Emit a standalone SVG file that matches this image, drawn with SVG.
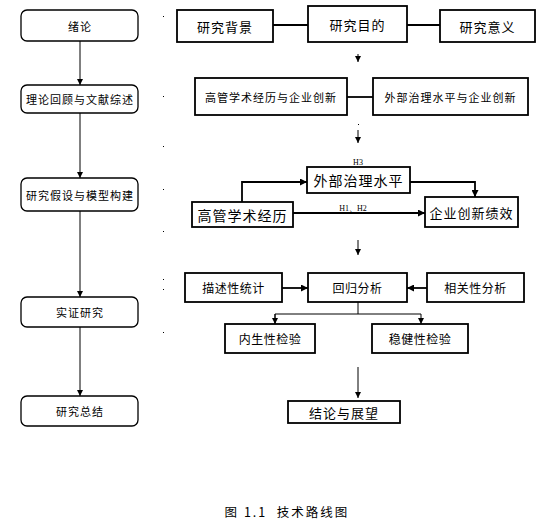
<svg xmlns="http://www.w3.org/2000/svg" width="547" height="521" viewBox="0 0 547 521">
<style>
text{font-family:"Noto Sans CJK SC","Noto Sans",sans-serif;fill:#000;text-anchor:middle;dominant-baseline:central}
.rb{fill:#fff;stroke:#000;stroke-width:1.3}
.b{fill:#fff;stroke:#000;stroke-width:1.8}
.c{fill:none;stroke:#000;stroke-width:1.8}
.t{fill:none;stroke:#000;stroke-width:1}
.s{font-size:11px;letter-spacing:1px}
.m{font-size:12px;letter-spacing:0.5px}
.l{font-size:13px;letter-spacing:1px}
.x{font-size:14px;letter-spacing:1px}
.h{font-size:8px;font-family:"Liberation Serif",serif}
.d{fill:#000}
</style>
<defs>
<marker id="a" viewBox="0 0 8 8" refX="8" refY="4" markerWidth="6" markerHeight="6" markerUnits="userSpaceOnUse" orient="auto"><path d="M0,0L8,4L0,8z" fill="#000"/></marker>
<marker id="a2" viewBox="0 0 8 8" refX="8" refY="4" markerWidth="7" markerHeight="7" markerUnits="userSpaceOnUse" orient="auto"><path d="M0,0L8,4L0,8z" fill="#000"/></marker>
</defs>
<g id="connectors">
<line class="t" x1="80" y1="41" x2="80" y2="85" marker-end="url(#a)"/>
<line class="t" x1="80" y1="113" x2="80" y2="178" marker-end="url(#a)"/>
<line class="t" x1="80" y1="211" x2="80" y2="297" marker-end="url(#a)"/>
<line class="t" x1="80" y1="327" x2="80" y2="396" marker-end="url(#a)"/>
<line class="c" x1="273" y1="25" x2="308" y2="25"/>
<line class="c" x1="407" y1="25" x2="440" y2="25"/>
<line class="t" x1="358" y1="54" x2="358" y2="62" marker-end="url(#a)"/>
<line class="c" x1="347" y1="97" x2="373" y2="97"/>
<line class="t" x1="358" y1="130" x2="358" y2="143" marker-end="url(#a)"/>
<polyline class="c" points="242,202 242,182 307,182" marker-end="url(#a2)"/>
<polyline class="c" points="410,182 475,182 475,197" marker-end="url(#a2)"/>
<line class="c" x1="293" y1="213" x2="425" y2="213" marker-end="url(#a2)"/>
<line class="t" x1="358" y1="240" x2="358" y2="255" marker-end="url(#a)"/>
<line class="c" x1="282" y1="288" x2="308" y2="288" marker-end="url(#a2)"/>
<line class="c" x1="427" y1="288" x2="407" y2="288" marker-end="url(#a2)"/>
<line class="t" x1="358" y1="302" x2="358" y2="314"/>
<polyline class="t" points="275,324 275,314 421,314 421,324" marker-end="url(#a)"/>
<line class="t" x1="275" y1="314" x2="275" y2="324" marker-end="url(#a)"/>
<line class="t" x1="358" y1="367" x2="358" y2="398" marker-end="url(#a)"/>
</g>
<g id="n1"><rect class="rb" x="21" y="10" width="117" height="31" rx="6"/><text class="s" x="80" y="25.5">绪论</text></g>
<g id="n2"><rect class="rb" x="21" y="85" width="117" height="28" rx="6"/><text class="s" x="80" y="99">理论回顾与文献综述</text></g>
<g id="n3"><rect class="rb" x="21" y="178" width="117" height="33" rx="6"/><text class="s" x="80" y="194.5">研究假设与模型构建</text></g>
<g id="n4"><rect class="rb" x="21" y="297" width="117" height="30" rx="6"/><text class="s" x="80" y="312">实证研究</text></g>
<g id="n5"><rect class="rb" x="21" y="396" width="117" height="30" rx="6"/><text class="s" x="80" y="411">研究总结</text></g>
<g id="r1"><rect class="b" x="177" y="10" width="96" height="32"/><text class="l" x="225" y="26">研究背景</text></g>
<g id="r2"><rect class="b" x="308" y="6" width="99" height="36"/><text class="l" x="357.5" y="24">研究目的</text></g>
<g id="r3"><rect class="b" x="440" y="10" width="95" height="32"/><text class="l" x="487.5" y="26">研究意义</text></g>
<g id="r4"><rect class="b" x="195" y="78" width="152" height="37"/><text class="s" x="271" y="96.5">高管学术经历与企业创新</text></g>
<g id="r5"><rect class="b" x="373" y="78" width="155" height="37"/><text class="s" x="450.5" y="96.5">外部治理水平与企业创新</text></g>
<g id="r6"><rect class="b" x="307" y="167" width="103" height="26"/><text class="x" x="358.5" y="180">外部治理水平</text></g>
<g id="r7"><rect class="b" x="192" y="202" width="101" height="25"/><text class="x" x="242.5" y="214.5">高管学术经历</text></g>
<g id="r8"><rect class="b" x="425" y="197" width="93" height="30"/><text class="l" x="471.5" y="212">企业创新绩效</text></g>
<g id="r9"><rect class="b" x="185" y="273" width="97" height="29"/><text class="m" x="233.5" y="287.5">描述性统计</text></g>
<g id="r10"><rect class="b" x="308" y="273" width="99" height="29"/><text class="m" x="357.5" y="287.5">回归分析</text></g>
<g id="r11"><rect class="b" x="427" y="273" width="97" height="29"/><text class="m" x="475.5" y="287.5">相关性分析</text></g>
<g id="r12"><rect class="b" x="225" y="324" width="90" height="29"/><text class="m" x="270" y="338.5">内生性检验</text></g>
<g id="r13"><rect class="b" x="372" y="324" width="96" height="29"/><text class="m" x="420" y="338.5">稳健性检验</text></g>
<g id="r14"><rect class="b" x="288" y="401" width="112" height="22"/><text class="l" x="344" y="412">结论与展望</text></g>
<text class="h" x="358" y="162">H3</text>
<text class="h" x="353" y="208">H1、H2</text>
<g id="dots">
<rect class="d" x="163" y="16" width="1" height="1"/>
<rect class="d" x="163" y="96" width="1" height="1"/>
<rect class="d" x="163" y="146" width="1" height="1"/>
<rect class="d" x="163" y="189" width="1" height="1"/>
<rect class="d" x="163" y="231" width="1" height="1"/>
<rect class="d" x="163" y="279" width="1" height="1"/>
<rect class="d" x="163" y="289" width="1" height="1"/>
<rect class="d" x="163" y="332" width="1" height="1"/>
<rect class="d" x="358" y="124" width="1" height="1"/>
</g>
<text x="287" y="511" xml:space="preserve" style="font-size:12.5px;letter-spacing:2px">图 1.1  技术路线图</text>
</svg>
